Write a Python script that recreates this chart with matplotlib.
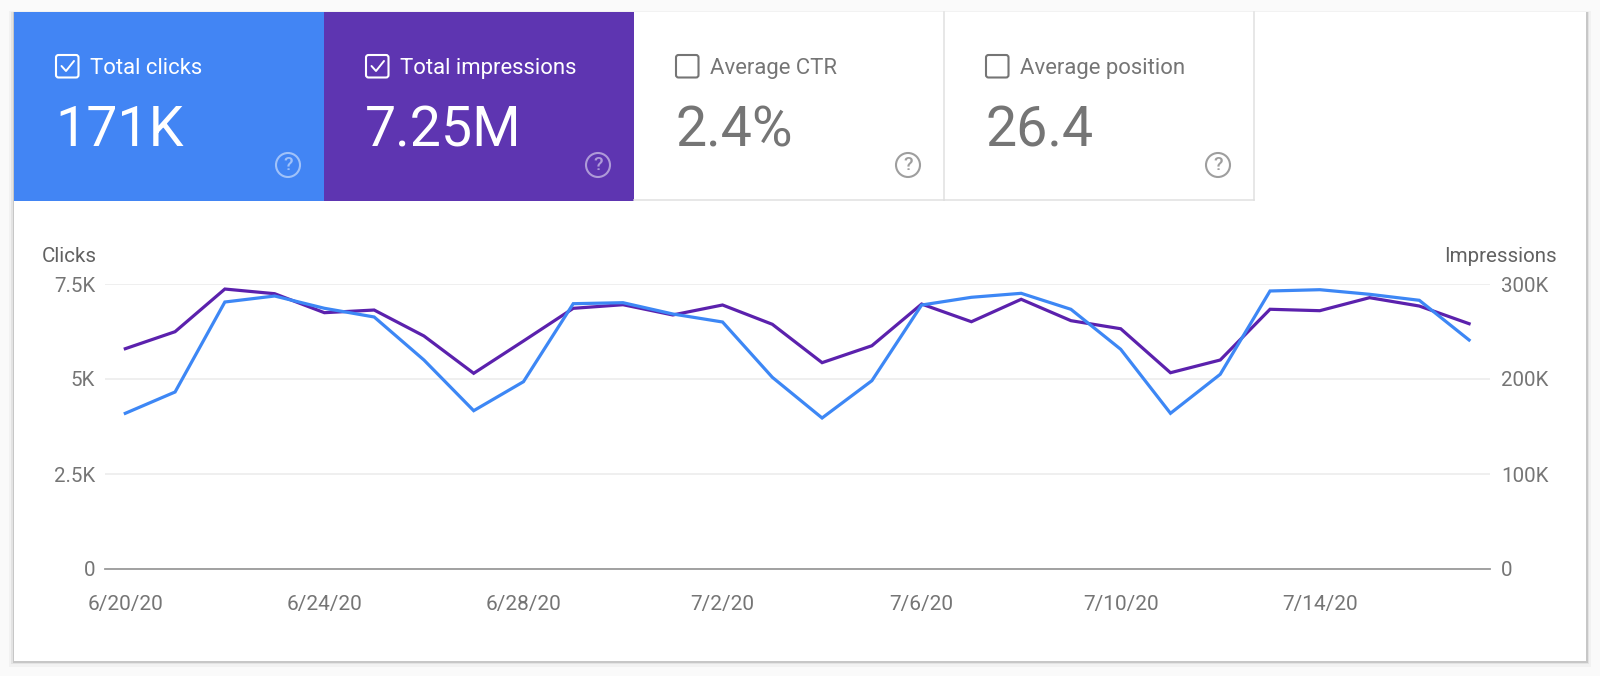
import matplotlib
matplotlib.use("Agg")
import matplotlib.pyplot as plt
from matplotlib.patches import Rectangle, FancyBboxPatch, Circle

plt.rcParams['font.family'] = ['Roboto', 'DejaVu Sans']

# Values, one per day from 6/20/20 to 7/17/20
clicks = [4097, 4658, 7026, 7184, 6861, 6632, 5500, 4166, 4929, 6982,
          7008, 6711, 6500, 5045, 3974, 4955, 6947, 7150, 7255, 6834,
          5782, 4097, 5124, 7316, 7350, 7229, 7071, 6026]
impressions = [231900, 249800, 294700, 289800, 269800, 272600, 245300, 206000, 240000, 274400,
               278200, 267400, 277900, 257600, 217200, 235000, 278900, 260300, 283900, 261400,
               252900, 206600, 220000, 273400, 271900, 285600, 276800, 258200]
days = list(range(len(clicks)))

date_ticks = [0, 4, 8, 12, 16, 20, 24]
date_labels = ["6/20/20", "6/24/20", "6/28/20", "7/2/20", "7/6/20", "7/10/20", "7/14/20"]
click_ticks = [0, 2500, 5000, 7500]
click_labels = ["0", "2.5K", "5K", "7.5K"]
impr_ticks = [0, 100000, 200000, 300000]
impr_labels = ["0", "100K", "200K", "300K"]

card_titles = ["Total clicks", "Total impressions", "Average CTR", "Average position"]
card_values = ["171K", "7.25M", "2.4%", "26.4"]
card_colors = ["#4285f4", "#5e35b1", "white", "white"]

BLUE = "#3d87f5"
PURPLE = "#5b21ad"
GREY = "#757575"
W, H = 1600, 676

fig = plt.figure(figsize=(W / 100, H / 100), dpi=100, facecolor="#fafafa")

# page layer in pixel coordinates, for the panel and the cards
page = fig.add_axes([0, 0, 1, 1], zorder=0)
page.set_xlim(0, W)
page.set_ylim(H, 0)
page.axis("off")

# soft shadow around the white panel, heavier along the bottom
for grow, alpha in [(5, 0.03), (3, 0.06), (1.5, 0.12)]:
    page.add_patch(Rectangle((14 - grow, 13 - grow * 0.5), 1572 + 2 * grow, 648 + grow * 1.6,
                             fc="black", ec="none", alpha=alpha))
page.add_patch(Rectangle((14, 12), 1572, 649, fc="white", ec="none"))

card_w = 310
for i in range(4):
    left = 14 + i * card_w
    filled = card_colors[i] != "white"
    fg = "white" if filled else GREY
    page.add_patch(Rectangle((left, 12), card_w, 188.5, fc=card_colors[i], ec="none"))
    if not filled:
        # thin grey card borders
        page.plot([left + card_w, left + card_w], [12, 200], color="#e0e0e0", lw=1.1)
        page.plot([left, left + card_w], [200, 200], color="#e0e0e0", lw=1.1)

    # checkbox
    page.add_patch(FancyBboxPatch((left + 42, 55), 22.5, 22.5, boxstyle="round,pad=0,rounding_size=2.5",
                                  fc="none", ec=fg, lw=1.5))
    if filled:
        page.plot([left + 47.5, left + 52, left + 60], [66, 71, 61], color="white", lw=1.4,
                  solid_capstyle="round")

    page.text(left + 76, 74, card_titles[i], color=fg, fontsize=15.9, va="baseline", ha="left")
    page.text(left + 41, 146.5, card_values[i], color=fg, fontsize=40, va="baseline", ha="left")

    # help icon
    icon = "white" if filled else "#9e9e9e"
    icon_alpha = 0.5 if filled else 1
    page.add_patch(Circle((left + 274, 165), 12, fc="none", ec=icon, lw=1.5, alpha=icon_alpha))
    page.text(left + 274, 165.5, "?", color=icon, alpha=icon_alpha, fontsize=14, ha="center",
              va="center", fontweight="medium")

# chart, left axis is clicks, right axis is impressions
rect = [105 / W, 1 - 569 / H, (1490 - 105) / W, (569 - 284) / H]
ax = fig.add_axes(rect, zorder=2)
ax.patch.set_alpha(0)
ax2 = ax.twinx()
ax2.set_zorder(1)
ax2.patch.set_alpha(0)

ax2.plot(days, impressions, color=PURPLE, lw=2.3, clip_on=False, zorder=3, solid_joinstyle="miter")
ax.plot(days, clicks, color=BLUE, lw=2.3, clip_on=False, zorder=4, solid_joinstyle="miter")

ax.set_xlim(-0.408, 27.42)
ax.set_ylim(0, 7500)
ax2.set_ylim(0, 300000)

ax.set_xticks(date_ticks)
ax.set_xticklabels(date_labels, color=GREY, fontsize=15)
ax.set_yticks(click_ticks)
ax.set_yticklabels(click_labels, color=GREY, fontsize=14.8)
ax2.set_yticks(impr_ticks)
ax2.set_yticklabels(impr_labels, color=GREY, fontsize=14.8)

ax.tick_params(axis="x", length=0, pad=19)
ax.tick_params(axis="y", length=0, pad=7)
ax2.tick_params(axis="y", length=0, pad=8)

ax2.grid(True, axis="y", color="#ebebeb", lw=1.1)
ax2.set_axisbelow(True)
for a in (ax, ax2):
    for side in ("top", "left", "right"):
        a.spines[side].set_visible(False)
    a.spines["bottom"].set_color("#9e9e9e")
    a.spines["bottom"].set_linewidth(1.1)

page.text(42, 256.5, "Clicks", color="#616161", fontsize=14.8, va="center", ha="left")
page.text(1557, 256.5, "Impressions", color="#616161", fontsize=14.8, va="center", ha="right")

fig.savefig("out.png", dpi=100, facecolor=fig.get_facecolor())
